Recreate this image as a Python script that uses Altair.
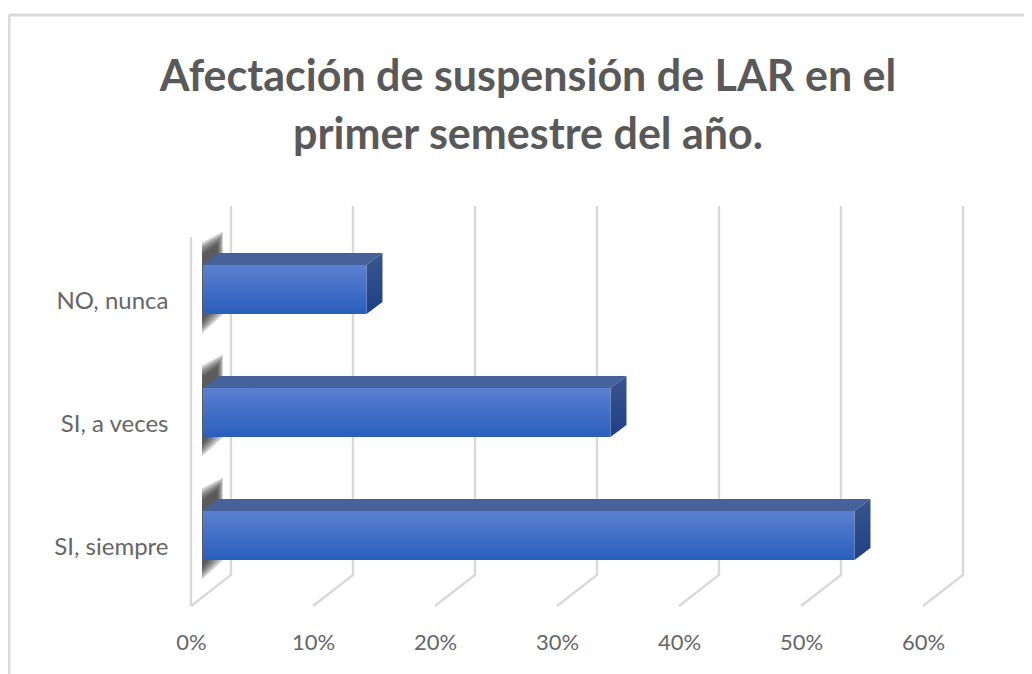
import json
import altair as alt
import pandas as pd

# --- chart values
categories = ["SI, siempre", "SI, a veces", "NO, nunca"]
values = [53.4, 33.4, 13.4]
ticks = [0, 10, 20, 30, 40, 50, 60]
title_lines = ["Afectación de suspensión de LAR en el", "primer semestre del año."]

# --- geometry of the pseudo-3D drawing (pixels per data unit)
PXX, PXY = 12.2, 123.0
WALL_DX, WALL_DY = 40 / PXX, 31 / PXY
BAR_DX, BAR_DY = 12 / PXX, 9 / PXY
FACE_DX, FACE_DY = 16 / PXX, 12 / PXY
HALF = 24.5 / PXY

xs = alt.Scale(domain=[0, 60], range=[0, 732], nice=False, zero=False)
ys = alt.Scale(domain=[0, 3], range=[369, 0], nice=False, zero=False)
x_axis = alt.Axis(values=ticks, format=".0f", labelExpr="datum.value + '%'", domain=False, ticks=False,
                  grid=False, title=None, labelFont="Lato", labelFontSize=22, labelColor="#666666",
                  labelPadding=36, labelBaseline="middle", labelFlush=False)
y_axis = alt.Axis(values=[0.5, 1.5, 2.5], labelExpr=json.dumps(categories) + "[floor(datum.value)]",
                  domain=False, ticks=False, grid=False, title=None, labelFont="Lato", labelFontSize=24,
                  labelColor="#666666", labelPadding=23, labelOffset=3)
X = alt.X("x:Q", scale=xs, axis=x_axis)
Y = alt.Y("y:Q", scale=ys, axis=y_axis)

# gridlines
grid = []
for t in ticks:
    grid += [dict(t=t, o=0, x=t, y=0), dict(t=t, o=1, x=t + WALL_DX, y=WALL_DY),
             dict(t=t, o=2, x=t + WALL_DX, y=3 + WALL_DY)]
grid += [dict(t=-1, o=0, x=0, y=0), dict(t=-1, o=1, x=0, y=3)]

bars, tops, sides, shadows = [], [], [], []
for i, (c, v) in enumerate(zip(categories, values)):
    mid = i + 0.5 + BAR_DY
    y0, y1 = mid - HALF, mid + HALF
    x0, x1 = BAR_DX, BAR_DX + v
    bars.append(dict(x=x0, x2=x1, y=y0, y2=y1))
    tops += [dict(b=i, y=y1, x=x0, x2=x1), dict(b=i, y=y1 + FACE_DY, x=x0 + FACE_DX, x2=x1 + FACE_DX)]
    sides += [dict(b=i, x=x1, y=y0, y2=y1), dict(b=i, x=x1 + FACE_DX, y=y0 + FACE_DY, y2=y1 + FACE_DY)]
    for k, ins in enumerate([0, 2, 4, 6, 8, 10, 12]):
        d = ins / PXY
        shadows += [
            dict(b=f"{i}-{k}", x=x0 - 1 / PXX, y=i + 0.5 - 35 / PXY + d, y2=i + 0.5 + 56 / PXY - d),
            dict(b=f"{i}-{k}", x=x0 + (20 - ins * 0.45) / PXX, y=i + 0.5 - 16 / PXY + d, y2=i + 0.5 + 67 / PXY - d),
        ]

layer_grid = alt.Chart(pd.DataFrame(grid)).mark_line(color="#d9d9d9", strokeWidth=2.4).encode(
    x=X, y=Y, detail="t:N", order="o:Q")
layer_shadow = alt.Chart(pd.DataFrame(shadows)).mark_area(color="#333333", opacity=0.2).encode(
    x=X, y=alt.Y("y:Q", scale=ys, axis=y_axis, stack=None), y2="y2:Q", detail="b:N")
layer_top = alt.Chart(pd.DataFrame(tops)).mark_area(orient="horizontal", color="#47629a").encode(
    y=Y, x=alt.X("x:Q", scale=xs, axis=x_axis, stack=None), x2="x2:Q", detail="b:N")
side_fill = alt.LinearGradient(gradient="linear", x1=0, y1=0, x2=0, y2=1,
                         stops=[alt.GradientStop(color="#3a568f", offset=0), alt.GradientStop(color="#1e3f82", offset=1)])
layer_side = alt.Chart(pd.DataFrame(sides)).mark_area(fill=side_fill).encode(
    x=X, y=alt.Y("y:Q", scale=ys, axis=y_axis, stack=None), y2="y2:Q", detail="b:N")
front_fill = alt.LinearGradient(gradient="linear", x1=0, y1=0, x2=0, y2=1,
                          stops=[alt.GradientStop(color="#5b80d0", offset=0), alt.GradientStop(color="#2a5ebd", offset=1)])
layer_front = alt.Chart(pd.DataFrame(bars)).mark_rect(fill=front_fill).encode(
    x=X, x2="x2:Q", y=Y, y2="y2:Q")

frame = pd.DataFrame({"k": [0]})
frame_top = alt.Chart(frame).mark_rule(color="#d9d9d9", strokeWidth=3).encode(
    x=alt.value(-182), x2=alt.value(841), y=alt.value(-222))
frame_left = alt.Chart(frame).mark_rule(color="#d9d9d9", strokeWidth=3).encode(
    x=alt.value(-182), y=alt.value(-222), y2=alt.value(437))

chart = alt.layer(frame_top, frame_left, layer_grid, layer_shadow, layer_top, layer_side, layer_front).properties(
    width=732, height=369,
    title=alt.TitleParams(text=title_lines, font="Lato", fontSize=43, fontWeight="bold", color="#595959",
                          anchor="middle", dx=-29, lineHeight=58, baseline="alphabetic", offset=-178),
    padding=alt.Padding(left=183, top=229, right=101, bottom=68),
    autosize=alt.AutoSizeParams(type="none"),
    background="white",
).configure_view(stroke=None)

chart.save("out.html", embed_options={"renderer": "svg", "actions": False})
